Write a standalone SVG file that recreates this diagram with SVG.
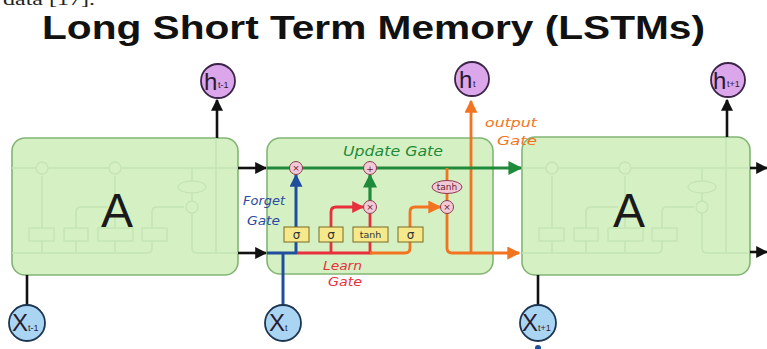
<svg xmlns="http://www.w3.org/2000/svg" width="767" height="349" viewBox="0 0 767 349">
<style>
.title{font-family:"Liberation Sans",Arial,sans-serif;font-weight:bold;font-size:33px;fill:#111}
.frag{font-family:"Liberation Serif","Times New Roman",serif;font-size:17px;fill:#222}
.box{fill:#d5f1c4;stroke:#83b574;stroke-width:1.6}
.ghost{fill:none;stroke:#c4e4b5;stroke-width:1.5}
.ghostf{fill:#d5f1c4;stroke:#c4e4b5;stroke-width:1.3}
.bigA{font-family:"Liberation Sans",Arial,sans-serif;font-size:48px;fill:#1a1a1a}
.blk{fill:none;stroke:#111;stroke-width:2.6}
.grn{fill:none;stroke:#1f8a3a;stroke-width:3.2}
.red{fill:none;stroke:#e8303c;stroke-width:2.8}
.org{fill:none;stroke:#f27320;stroke-width:2.8}
.blu{fill:none;stroke:#1f4f9c;stroke-width:3}
.op{fill:#f3c9d6;stroke:#8a3a50;stroke-width:1}
.opt{font-family:"DejaVu Sans",sans-serif;font-size:9px;fill:#6a2030;text-anchor:middle}
.sig{fill:#f5e98c;stroke:#7a6a20;stroke-width:1}
.sigt{font-family:"DejaVu Sans",sans-serif;font-size:12px;fill:#333;text-anchor:middle}
.hn{fill:#dba6ea;stroke:#3a2448;stroke-width:1.8}
.xn{fill:#a9d5f2;stroke:#1d3550;stroke-width:1.8}
.nt{font-family:"Liberation Sans",Arial,sans-serif;font-size:24px;fill:#2a1a30}
.ns{font-family:"Liberation Sans",Arial,sans-serif;font-size:9px;fill:#2a1a30}
.hand{font-family:"DejaVu Sans",sans-serif;font-style:italic;font-size:13px}
</style>
<defs>
<marker id="mk" viewBox="0 0 10 10" refX="9" refY="5" markerUnits="userSpaceOnUse" markerWidth="12" markerHeight="12" orient="auto"><path d="M0,0L10,5L0,10z" fill="#111"/></marker>
<marker id="mg" viewBox="0 0 10 10" refX="9" refY="5" markerUnits="userSpaceOnUse" markerWidth="14" markerHeight="14" orient="auto"><path d="M0,0L10,5L0,10z" fill="#1f8a3a"/></marker>
<marker id="mr" viewBox="0 0 10 10" refX="9" refY="5" markerUnits="userSpaceOnUse" markerWidth="12" markerHeight="12" orient="auto"><path d="M0,0L10,5L0,10z" fill="#e8303c"/></marker>
<marker id="mo" viewBox="0 0 10 10" refX="9" refY="5" markerUnits="userSpaceOnUse" markerWidth="13" markerHeight="13" orient="auto"><path d="M0,0L10,5L0,10z" fill="#f27320"/></marker>
<marker id="mb" viewBox="0 0 10 10" refX="9" refY="5" markerUnits="userSpaceOnUse" markerWidth="13" markerHeight="13" orient="auto"><path d="M0,0L10,5L0,10z" fill="#1f4f9c"/></marker>
<g id="ghostcell">
<path class="ghost" d="M12,168H238M12,253H147Q152,253 152,248V212Q152,207 157,207H184M42,253V176M76,253V212Q76,207 81,207H108M115,253V213M115,201V176M192,168V181M192,193V201M192,213V248Q192,253 197,253H238M216,138V253"/>
<circle class="ghostf" cx="42" cy="168" r="6"/>
<circle class="ghostf" cx="115" cy="168" r="6"/>
<circle class="ghostf" cx="192" cy="207" r="6"/>
<ellipse class="ghostf" cx="192" cy="187" rx="14" ry="6"/>
<rect class="ghostf" x="29" y="228" width="25" height="13"/>
<rect class="ghostf" x="64" y="228" width="24" height="13"/>
<rect class="ghostf" x="98" y="228" width="35" height="13"/>
<rect class="ghostf" x="142" y="228" width="25" height="13"/>
</g>
</defs>

<text class="frag" x="3" y="5" textLength="92" lengthAdjust="spacingAndGlyphs">data [17].</text>
<text class="title" x="42" y="39" textLength="663" lengthAdjust="spacingAndGlyphs">Long Short Term Memory (LSTMs)</text>

<g id="cell-left">
<rect class="box" x="12" y="138" width="226" height="137" rx="13"/>
<use href="#ghostcell"/>
<text class="bigA" x="117" y="227" text-anchor="middle">A</text>
</g>
<g id="cell-mid">
<rect class="box" x="267" y="138" width="226" height="136" rx="13"/>
</g>
<g id="cell-right">
<rect class="box" x="522" y="137" width="228" height="138" rx="13"/>
<use href="#ghostcell" transform="translate(510,0)"/>
<text class="bigA" x="629" y="227" text-anchor="middle">A</text>
</g>

<g id="connectors">
<path class="blk" d="M27,305V275"/>
<path class="blk" d="M217,138V100" marker-end="url(#mk)"/>
<path class="blk" d="M238,168H266" marker-end="url(#mk)"/>
<path class="blk" d="M238,253H266" marker-end="url(#mk)"/>
<path class="blk" d="M538,305V275"/>
<path class="blk" d="M727,137V100" marker-end="url(#mk)"/>
<path class="blk" d="M750,168H767" marker-end="url(#mk)"/>
<path class="blk" d="M750,252H767" marker-end="url(#mk)"/>
<path class="org" d="M471,253V101" marker-end="url(#mo)"/>
<path class="grn" d="M267,168H521" marker-end="url(#mg)"/>
<path class="red" d="M297,253H372"/>
<path class="red" d="M331,253V212Q331,207 336,207H363" marker-end="url(#mr)"/>
<path class="red" d="M370,253V214"/>
<path class="grn" d="M370,201V175" marker-end="url(#mg)"/>
<path class="org" d="M370,253H405Q410,253 410,248V212Q410,207 415,207H440" marker-end="url(#mo)"/>
<path class="org" d="M447,168V181M447,193V201"/>
<path class="org" d="M447,213V248Q447,253 452,253H519" marker-end="url(#mo)"/>
<path class="blu" d="M267,253H297"/>
<path class="blu" d="M283,305V253"/>
<path class="blu" d="M296,253V175" marker-end="url(#mb)"/>
<ellipse cx="538" cy="348" rx="3" ry="3" fill="#1f4f9c"/>
</g>

<g id="ops">
<circle class="op" cx="296" cy="168" r="6.5"/><text class="opt" x="296" y="171">×</text>
<circle class="op" cx="370" cy="168" r="6.5"/><text class="opt" x="370" y="171.5">+</text>
<circle class="op" cx="370" cy="207" r="6.5"/><text class="opt" x="370" y="210">×</text>
<circle class="op" cx="447" cy="207" r="6.5"/><text class="opt" x="447" y="210">×</text>
<ellipse class="op" cx="447" cy="187" rx="15" ry="6.5"/><text class="opt" x="447" y="190">tanh</text>
</g>
<g id="layers">
<rect class="sig" x="284" y="227" width="25" height="15"/><text class="sigt" x="296.5" y="239">σ</text>
<rect class="sig" x="319" y="227" width="24" height="15"/><text class="sigt" x="331" y="239">σ</text>
<rect class="sig" x="353" y="227" width="35" height="15"/><text class="sigt" x="370.5" y="238" style="font-size:9.5px">tanh</text>
<rect class="sig" x="398" y="227" width="25" height="15"/><text class="sigt" x="410.5" y="239">σ</text>
</g>

<g id="labels">
<text class="hand" x="343" y="156" fill="#1f8a3a" style="font-size:14px" textLength="100" lengthAdjust="spacingAndGlyphs">Update Gate</text>
<text class="hand" x="243" y="205" fill="#2a4aa0" textLength="42" lengthAdjust="spacingAndGlyphs">Forget</text>
<text class="hand" x="247" y="225" fill="#2a4aa0" textLength="33" lengthAdjust="spacingAndGlyphs">Gate</text>
<text class="hand" x="323" y="270" fill="#e8303c" textLength="39" lengthAdjust="spacingAndGlyphs">Learn</text>
<text class="hand" x="328" y="286" fill="#e8303c" textLength="34" lengthAdjust="spacingAndGlyphs">Gate</text>
<text class="hand" x="485" y="127" fill="#f27320" textLength="52" lengthAdjust="spacingAndGlyphs">output</text>
<text class="hand" x="497" y="145" fill="#f27320" textLength="40" lengthAdjust="spacingAndGlyphs">Gate</text>
</g>

<g id="h-prev"><circle class="hn" cx="218" cy="81" r="17"/><text class="nt" x="204" y="90">h</text><text class="ns" x="218" y="88">t-1</text></g>
<g id="h-t"><circle class="hn" cx="472" cy="79" r="17"/><text class="nt" x="459" y="88">h</text><text class="ns" x="473" y="87">t</text></g>
<g id="h-next"><circle class="hn" cx="728" cy="80" r="17"/><text class="nt" x="713" y="89">h</text><text class="ns" x="727" y="87">t+1</text></g>
<g id="x-prev"><circle class="xn" cx="27" cy="323" r="18"/><text class="nt" x="12" y="331">X</text><text class="ns" x="28" y="331">t-1</text></g>
<g id="x-t"><circle class="xn" cx="283" cy="323" r="18"/><text class="nt" x="269" y="331">X</text><text class="ns" x="285" y="331">t</text></g>
<g id="x-next"><circle class="xn" cx="538" cy="323" r="18"/><text class="nt" x="522" y="331">X</text><text class="ns" x="538" y="331">t+1</text></g>
</svg>
